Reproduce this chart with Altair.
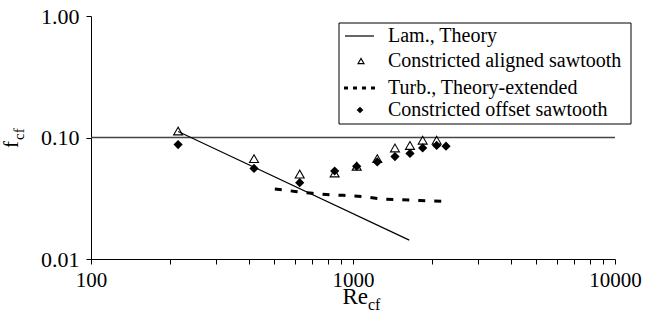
import altair as alt
import pandas as pd

# Data
lam_re = [215, 1640]
lam_f = [0.112, 0.0143]

turb_re = [503, 601, 703, 817, 916, 1081, 1302, 1800, 2190]
turb_f = [0.0377, 0.0360, 0.0347, 0.0338, 0.0334, 0.0327, 0.0311, 0.0303, 0.0298]

aligned_re = [215, 419, 626, 851, 1033, 1238, 1446, 1650, 1845, 2086]
aligned_f = [0.113, 0.067, 0.050, 0.051, 0.058, 0.067, 0.082, 0.086, 0.095, 0.095]

offset_re = [215, 419, 626, 851, 1033, 1238, 1446, 1650, 1845, 2086, 2265]
offset_f = [0.0875, 0.0557, 0.0425, 0.0530, 0.0580, 0.0630, 0.0697, 0.0740, 0.0820, 0.0860, 0.0848]

legend_labels = ["Lam., Theory", "Constricted aligned sawtooth",
                 "Turb., Theory-extended", "Constricted offset sawtooth"]

x_ticks = [100, 200, 300, 400, 500, 600, 700, 800, 900,
           1000, 2000, 3000, 4000, 5000, 6000, 7000, 8000, 9000, 10000]
y_ticks = [0.01, 0.1, 1.0]
ref_level = [0.1]

FONT = "Liberation Serif"

lam = pd.DataFrame({"Re": lam_re, "f": lam_f})
turb = pd.DataFrame({"Re": turb_re, "f": turb_f})
aligned = pd.DataFrame({"Re": aligned_re, "f": aligned_f})
offset = pd.DataFrame({"Re": offset_re, "f": offset_f})
one = pd.DataFrame({"a": [0]})

xs = alt.Scale(type="log", domain=[100, 10000], nice=False)
ys = alt.Scale(type="log", domain=[0.01, 1.0], nice=False)

xaxis = alt.Axis(values=x_ticks, title=None,
                 labelExpr="(datum.value == 100 || datum.value == 1000 || datum.value == 10000) ? format(datum.value, 'd') : ''",
                 tickSize=5, labelPadding=5, labelFontSize=21, labelFont=FONT,
                 labelColor="black", domainColor="black", tickColor="black", grid=False,
                 labelFlush=False)
yaxis = alt.Axis(values=y_ticks, format=".2f", title=None, tickSize=5, labelPadding=7,
                 labelFontSize=22, labelFont=FONT, labelColor="black",
                 domainColor="black", tickColor="black", grid=False)

X = alt.X("Re:Q", scale=xs, axis=xaxis)
Y = alt.Y("f:Q", scale=ys, axis=yaxis)

rule = alt.Chart(pd.DataFrame({"f": ref_level})).mark_rule(color="#444444", strokeWidth=1.5).encode(
    y=alt.Y("f:Q", scale=ys, axis=yaxis))

lam_line = alt.Chart(lam).mark_line(color="black", strokeWidth=1.2).encode(x=X, y=Y)
turb_line = alt.Chart(turb).mark_line(color="black", strokeWidth=3, strokeDash=[7, 9]).encode(x=X, y=Y)

tri = alt.Chart(aligned).mark_point(shape="triangle-up", size=80, filled=False,
                                    color="black", strokeWidth=1.1, opacity=1).encode(x=X, y=Y)
dia = alt.Chart(offset).mark_point(shape="diamond", size=85, filled=True,
                                   color="black", opacity=1).encode(x=X, y=Y)

# Legend (drawn manually)
box = alt.Chart(one).mark_rect(fill="white", stroke="black", strokeWidth=1).encode(
    x=alt.value(248), x2=alt.value(540), y=alt.value(7), y2=alt.value(108))
leg_line = alt.Chart(one).mark_rule(color="black", strokeWidth=1.2).encode(
    x=alt.value(254), x2=alt.value(283), y=alt.value(20))
leg_tri = alt.Chart(one).mark_point(shape="triangle-up", size=35, filled=False,
                                    color="black", strokeWidth=1.2, opacity=1).encode(
    x=alt.value(270), y=alt.value(45))
leg_dash = alt.Chart(one).mark_rule(color="black", strokeWidth=3, strokeDash=[4, 5]).encode(
    x=alt.value(253), x2=alt.value(285), y=alt.value(72))
leg_dia = alt.Chart(one).mark_point(shape="diamond", size=45, filled=True,
                                    color="black", opacity=1).encode(
    x=alt.value(269), y=alt.value(94))

leg_y = [20, 45, 72, 94]
leg_texts = [
    alt.Chart(one).mark_text(text=lab, font=FONT, fontSize=20, align="left",
                             baseline="middle", color="black").encode(
        x=alt.value(297), y=alt.value(yy))
    for lab, yy in zip(legend_labels, leg_y)
]

# Axis titles with subscripts
re_t = alt.Chart(one).mark_text(text="Re", font=FONT, fontSize=23, align="right",
                                baseline="alphabetic", color="black").encode(
    x=alt.value(277), y=alt.value(288))
re_s = alt.Chart(one).mark_text(text="cf", font=FONT, fontSize=16, align="left",
                                baseline="alphabetic", color="black").encode(
    x=alt.value(277), y=alt.value(294))
f_t = alt.Chart(one).mark_text(text="f", font=FONT, fontSize=21, align="left", angle=270,
                               baseline="alphabetic", color="black").encode(
    x=alt.value(-73), y=alt.value(132))
f_s = alt.Chart(one).mark_text(text="cf", font=FONT, fontSize=15, align="left", angle=270,
                               baseline="alphabetic", color="black").encode(
    x=alt.value(-67), y=alt.value(124))

chart = alt.layer(rule, lam_line, turb_line, tri, dia, box, leg_line, leg_tri, leg_dash,
                  leg_dia, *leg_texts, re_t, re_s, f_t, f_s).properties(
    width=524, height=243,
    autosize=alt.AutoSizeParams(type="none"),
    padding={"left": 91, "top": 16, "right": 33, "bottom": 63},
    background="white",
).configure_view(stroke=None)

chart.save("out.html", embed_options={"renderer": "svg", "actions": False})
